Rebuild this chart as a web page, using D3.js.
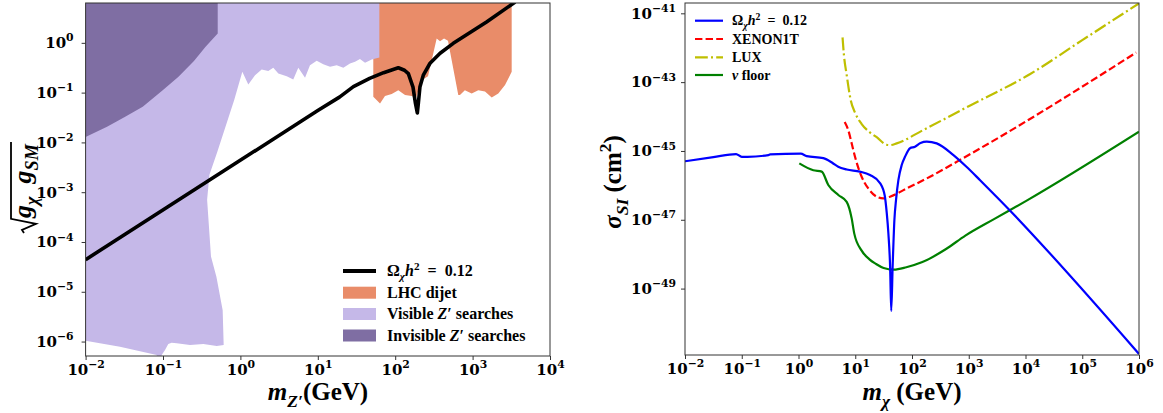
<!DOCTYPE html>
<html>
<head>
<meta charset="utf-8">
<script src="https://cdn.jsdelivr.net/npm/d3@7"></script>
<style>
  body { margin: 0; background: #fff; }
  svg { display: block; }
  text { font-family: "Liberation Serif", serif; font-weight: bold; fill: #000; }
  .tick text { font-family: "DejaVu Serif", serif; font-weight: bold; }
</style>
</head>
<body>
<div class="canvas"></div>
<script>
// all curves are stored as [log10 x, log10 y] pairs

// left panel: relic line, m_Z' (GeV) vs sqrt(g_chi g_SM)
const relicZp = [[-2,-4.355],[1.0,-1.36],[1.28,-1.09],[1.46,-0.88],[1.67,-0.715],[1.85,-0.60],[2.04,-0.50],
  [2.12,-0.55],[2.17,-0.62],[2.23,-0.89],[2.26,-1.2],[2.286,-1.41],[2.30,-1.2],[2.32,-0.88],[2.363,-0.65],
  [2.45,-0.41],[2.58,-0.21],[2.75,-0.01],[3.18,0.42],[3.55,0.82]];

// LHC dijet exclusion, lower edge (region runs up to the top)
const dijetEdge = [[1.717,-1.084],[1.804,-1.217],[1.868,-1.07],[1.955,-1.03],[2.04,-0.95],[2.127,-1.05],
  [2.213,-1.07],[2.269,-1.11],[2.30,-0.95],[2.346,-0.749],[2.424,-0.669],[2.536,0.088],[2.579,0.034],
  [2.631,0.088],[2.682,0.040],[2.815,-1.05],[2.837,-1.05],[2.90,-0.95],[2.988,-1.016],[3.074,-0.95],
  [3.16,-0.98],[3.247,-1.096],[3.332,-1.016],[3.419,-0.849],[3.505,-0.582]];

// visible Z' searches outline
const visibleZp = [[-2,1],[1.795,1],[1.795,-0.293],[1.697,-0.333],[1.61,-0.40],[1.545,-0.327],[1.481,-0.382],
  [1.416,-0.414],[1.330,-0.502],[1.244,-0.448],[1.158,-0.482],[1.071,-0.428],[0.986,-0.361],[0.899,-0.448],
  [0.835,-0.703],[0.748,-0.502],[0.683,-0.735],[0.598,-0.669],[0.490,-0.614],[0.425,-0.502],[0.360,-0.568],
  [0.275,-0.534],[0.189,-0.649],[0.102,-0.835],[0.025,-0.582],[-0.08,-1.15],[-0.30,-2.2],[-0.40,-2.65],
  [-0.43,-3.15],[-0.38,-4.29],[-0.31,-4.70],[-0.229,-5.37],[-0.216,-6.07],[-0.306,-6.09],[-0.479,-6.05],
  [-0.651,-6.07],[-0.823,-6.036],[-0.888,-6.024],[-0.932,-6.05],[-0.974,-6.17],[-1.017,-6.27],[-1.02,-6.6],
  [-1.08,-6.6],[-1.081,-6.271],[-1.556,-6.104],[-2,-5.984]];

// invisible Z' searches outline
const invisibleZp = [[-2,1],[-2,-1.889],[-1.723,-1.688],[-1.5,-1.494],[-1.262,-1.286],[-1.0,-0.945],
  [-0.8,-0.683],[-0.6,-0.363],[-0.45,-0.081],[-0.293,0.188],[-0.293,1]];

// right panel: m_chi (GeV) vs sigma_SI (cm^2)
const relicSI = [[-2,-45.30],[-1.5,-45.18],[-1.10,-45.09],[-1.0,-45.17],[-0.9,-45.17],[-0.53,-45.12],
  [-0.5,-45.10],[0.04,-45.08],[0.144,-45.15],[0.437,-45.21],[0.60,-45.35],[0.70,-45.46],[0.85,-45.54],
  [1.08,-45.60],[1.26,-45.70],[1.44,-45.94],[1.52,-46.3],[1.555,-46.8],[1.584,-47.4],[1.615,-48.4],
  [1.634,-49.65],[1.66,-48.3],[1.69,-47.0],[1.72,-46.4],[1.76,-45.85],[1.82,-45.4],[1.877,-45.17],
  [1.965,-44.92],[2.053,-44.88],[2.15,-44.77],[2.26,-44.73],[2.435,-44.78],[2.73,-45.12],[2.96,-45.46],
  [3.20,-45.85],[3.55,-46.43],[6,-50.9]];
const xenon1t = [[0.814,-44.16],[0.878,-44.40],[0.94,-44.8],[0.996,-45.17],[1.113,-45.75],[1.23,-46.09],
  [1.378,-46.33],[1.494,-46.38],[1.612,-46.33],[1.906,-46.09],[2.317,-45.75],[2.846,-45.26],[3.551,-44.59],
  [5.95,-42.14]];
const lux = [[0.776,-41.70],[0.80,-42.2],[0.85,-42.8],[0.921,-43.53],[1.0,-43.9],[1.11,-44.21],[1.25,-44.45],
  [1.378,-44.60],[1.552,-44.82],[1.612,-44.83],[1.73,-44.78],[2.2,-44.39],[3.0,-43.70],[4.076,-42.77],
  [5.0,-41.78],[6,-40.71]];
const nuFloor = [[0.014,-45.36],[0.261,-45.56],[0.409,-45.60],[0.525,-45.99],[0.702,-46.28],[0.849,-46.48],
  [0.937,-46.96],[0.984,-47.41],[1.11,-47.89],[1.25,-48.15],[1.363,-48.28],[1.5,-48.4],[1.678,-48.45],
  [1.9,-48.38],[2.183,-48.23],[2.6,-47.85],[2.94,-47.46],[3.445,-46.98],[4.013,-46.45],[6,-44.44]];

// tick values
const xTicksL = [1e-2, 1e-1, 1e0, 1e1, 1e2, 1e3, 1e4];
const yTicksL = [1e-6, 1e-5, 1e-4, 1e-3, 1e-2, 1e-1, 1e0];
const xTicksR = [1e-2, 1e-1, 1e0, 1e1, 1e2, 1e3, 1e4, 1e5, 1e6];
const yTicksR = [1e-49, 1e-47, 1e-45, 1e-43, 1e-41];

// legend labels, as rich-text pieces
const relicLabel = [{t:'Ω'},{t:'χ',sub:1,it:1},{t:'h',it:1},{t:'2',sup:1},{t:'\u2002=\u20020.12'}];
const legendLeft = [
  relicLabel,
  [{t:'LHC dijet'}],
  [{t:'Visible '},{t:'Z',it:1},{t:'′ searches'}],
  [{t:'Invisible '},{t:'Z',it:1},{t:'′ searches'}]
];
const legendRight = [
  relicLabel,
  [{t:'XENON1T'}],
  [{t:'LUX'}],
  [{t:'ν',it:1},{t:' floor'}]
];

const svg = d3.select('.canvas').append('svg')
  .attr('width', 1163)
  .attr('height', 413);

// writes sub/superscript pieces into a text element
function mathText(sel, parts, size) {
  let off = 0;
  parts.forEach(p => {
    const target = p.sub ? size * 0.28 : p.sup ? -size * 0.4 : 0;
    const ts = sel.append('tspan').text(p.t)
      .attr('font-size', (p.sub || p.sup) ? size * 0.7 : size)
      .attr('font-style', p.it ? 'italic' : 'normal');
    if (target - off !== 0) ts.attr('dy', target - off);
    off = target;
  });
  return sel;
}

// 10^n tick labels
function powerLabels(axisG, size) {
  axisG.selectAll('.tick text').each(function(d) {
    const e = Math.round(Math.log10(d));
    const t = d3.select(this).text(null);
    t.append('tspan').text('10');
    t.append('tspan')
      .attr('dy', -size * 0.45)
      .attr('font-size', size * 0.72)
      .text(String(e).replace('-', '\u2212'));
  });
}

function styleAxis(g) {
  g.attr('font-size', 15);
  g.select('.domain').remove();
  g.selectAll('.tick line').attr('stroke', '#333');
}

function frame(box) {
  svg.append('rect')
    .attr('x', box.x0).attr('y', box.y0)
    .attr('width', box.x1 - box.x0).attr('height', box.y1 - box.y0)
    .attr('fill', 'none').attr('stroke', '#333').attr('stroke-width', 1);
}

function clip(id, box) {
  svg.append('clipPath').attr('id', id).append('rect')
    .attr('x', box.x0).attr('y', box.y0)
    .attr('width', box.x1 - box.x0).attr('height', box.y1 - box.y0);
}

// ---------------- left panel ----------------
const L = {x0: 85.6, x1: 550, y0: 3, y1: 356};
const xL = d3.scaleLog().domain([1e-2, 1e4]).range([L.x0, L.x1]);
const yL = d3.scaleLog().domain([10 ** -6.29, 10 ** 0.8]).range([L.y1, L.y0]);
const lineL = d3.line().x(d => xL(10 ** d[0])).y(d => yL(10 ** d[1]));

clip('clipL', L);
const plotL = svg.append('g').attr('clip-path', 'url(#clipL)');

const dijetShape = [[1.717, 1]].concat(dijetEdge, [[3.505, 1]]);
plotL.append('path').attr('d', lineL(dijetShape) + 'Z').attr('fill', '#e98c69');
plotL.append('path').attr('d', lineL(visibleZp) + 'Z').attr('fill', '#c5b8e8');
plotL.append('path').attr('d', lineL(invisibleZp) + 'Z').attr('fill', '#7f6ea3');
plotL.append('path').attr('d', lineL(relicZp))
  .attr('fill', 'none').attr('stroke', '#000').attr('stroke-width', 3.6)
  .attr('stroke-linejoin', 'round');

const xAxisL = svg.append('g').attr('transform', `translate(0,${L.y1})`)
  .call(d3.axisBottom(xL).tickValues(xTicksL).tickSize(4).tickPadding(4));
const yAxisL = svg.append('g').attr('transform', `translate(${L.x0},0)`)
  .call(d3.axisLeft(yL).tickValues(yTicksL).tickSize(4).tickPadding(8));
[xAxisL, yAxisL].forEach(g => { styleAxis(g); powerLabels(g, 15); });
frame(L);

// legend, lower right
const legL = svg.append('g');
const rowsL = [271, 292.7, 314, 335.5];
const fillsL = ['#e98c69', '#c5b8e8', '#7f6ea3'];
legL.append('line').attr('x1', 343).attr('x2', 376).attr('y1', rowsL[0]).attr('y2', rowsL[0])
  .attr('stroke', '#000').attr('stroke-width', 4);
fillsL.forEach((c, i) => {
  legL.append('rect').attr('x', 343).attr('y', rowsL[i + 1] - 6).attr('width', 33).attr('height', 12)
    .attr('fill', c);
});
legendLeft.forEach((parts, i) => {
  mathText(legL.append('text').attr('x', 387).attr('y', rowsL[i] + 5), parts, 16);
});

// axis titles
mathText(svg.append('text').attr('x', 318).attr('y', 400).attr('text-anchor', 'middle'),
  [{t:'m',it:1},{t:'Z′',sub:1,it:1},{t:'(GeV)'}], 25);

const yTitleL = svg.append('g').attr('transform', 'translate(31,188) rotate(-90)');
const radicand = mathText(yTitleL.append('text').attr('x', 0).attr('y', 0),
  [{t:'g',it:1},{t:'χ',sub:1,it:1},{t:'\u2002g',it:1},{t:'SM',sub:1,it:1}], 26);
const rw = radicand.node().getComputedTextLength();
const shift = -(rw + 14) / 2 + 14;
radicand.attr('x', shift);
yTitleL.append('path')
  .attr('d', `M${shift - 15},-7 L${shift - 12},-9 L${shift - 6},5 L${shift - 1},-20 L${shift + rw + 2},-20`)
  .attr('fill', 'none').attr('stroke', '#000').attr('stroke-width', 1.8);

// ---------------- right panel ----------------
const R = {x0: 685, x1: 1139, y0: 3, y1: 355};
const xR = d3.scaleLog().domain([1e-2, 1e6]).range([R.x0, R.x1]);
const yR = d3.scaleLog().domain([10 ** -50.93, 10 ** -40.7]).range([R.y1, R.y0]);
const lineR = d3.line().x(d => xR(10 ** d[0])).y(d => yR(10 ** d[1])).curve(d3.curveMonotoneX);

clip('clipR', R);
const plotR = svg.append('g').attr('clip-path', 'url(#clipR)');

const seriesR = [
  {data: relicSI, color: '#0000ff', dash: null},
  {data: xenon1t, color: '#ff0000', dash: '7.4,3.2'},
  {data: lux, color: '#bfbf00', dash: '12.8,3.2,2,3.2'},
  {data: nuFloor, color: '#008000', dash: null}
];
// draw order: relic on top
[seriesR[3], seriesR[2], seriesR[1], seriesR[0]].forEach(s => {
  plotR.append('path').attr('d', lineR(s.data))
    .attr('fill', 'none').attr('stroke', s.color).attr('stroke-width', 2.2)
    .attr('stroke-dasharray', s.dash);
});

const xAxisR = svg.append('g').attr('transform', `translate(0,${R.y1})`)
  .call(d3.axisBottom(xR).tickValues(xTicksR).tickSize(4).tickPadding(4));
const yAxisR = svg.append('g').attr('transform', `translate(${R.x0},0)`)
  .call(d3.axisLeft(yR).tickValues(yTicksR).tickSize(4).tickPadding(5));
[xAxisR, yAxisR].forEach(g => { styleAxis(g); powerLabels(g, 15); });
frame(R);

// legend, upper left
const legR = svg.append('g');
const rowsR = [20.7, 39, 57.3, 75];
seriesR.forEach((s, i) => {
  legR.append('line').attr('x1', 695).attr('x2', 723).attr('y1', rowsR[i]).attr('y2', rowsR[i])
    .attr('stroke', s.color).attr('stroke-width', 2.2).attr('stroke-dasharray', s.dash);
});
legendRight.forEach((parts, i) => {
  mathText(legR.append('text').attr('x', 732).attr('y', rowsR[i] + 4.5), parts, 14);
});

mathText(svg.append('text').attr('x', 912).attr('y', 400).attr('text-anchor', 'middle'),
  [{t:'m',it:1},{t:'χ',sub:1,it:1},{t:' (GeV)'}], 25);
mathText(svg.append('text').attr('text-anchor', 'middle')
    .attr('transform', 'translate(621,182) rotate(-90)'),
  [{t:'σ',it:1},{t:'SI',sub:1,it:1},{t:' (cm'},{t:'2',sup:1},{t:')'}], 25);
</script>
</body>
</html>
